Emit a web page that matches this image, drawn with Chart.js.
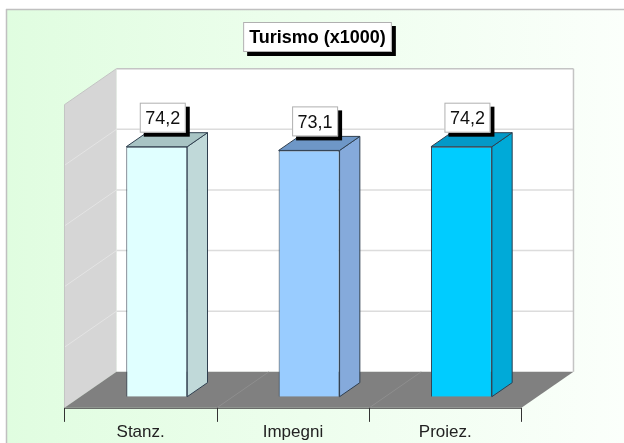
<!DOCTYPE html>
<html>
<head>
<meta charset="utf-8">
<script src="https://cdn.jsdelivr.net/npm/chart.js@4/dist/chart.umd.min.js"></script>
<style>
html,body{margin:0;padding:0;background:#fff;}
canvas{display:block;}
</style>
</head>
<body>
<canvas id="chart" width="624" height="443"></canvas>
<script>
const categories = ['Stanz.', 'Impegni', 'Proiez.'];
const values = [74.2, 73.1, 74.2];
const frontColors = ['#e0ffff', '#99ccff', '#00ccff'];
const sideColors = ['#c0d9d9', '#85aadb', '#00aad8'];
const topColors = ['#a8c4c4', '#6e97c7', '#0399c8'];
const yMax = 90;
const yStep = 18;
const chartTitle = 'Turismo (x1000)';

// obliqua: profondita' del pavimento e posizione delle barre dentro
const DX = 52, DY = 36;
const BAR_FRONT = 0.31, BAR_BACK = 0.70;
const FONT = '"Liberation Sans", Arial, sans-serif';

// punto sul piano frontale delle barre spostato alla profondita' d
function P(x, y, d){
  return [x + (d - BAR_FRONT) * DX, y - (d - BAR_FRONT) * DY];
}

function poly(ctx, pts, fill, stroke, lw){
  ctx.beginPath();
  ctx.moveTo(pts[0][0], pts[0][1]);
  for(let i=1;i<pts.length;i++) ctx.lineTo(pts[i][0], pts[i][1]);
  ctx.closePath();
  if(fill){ ctx.fillStyle = fill; ctx.fill(); }
  if(stroke){ ctx.strokeStyle = stroke; ctx.lineWidth = lw || 1; ctx.stroke(); }
}

function line(ctx, a, b, color, lw){
  ctx.beginPath();
  ctx.moveTo(a[0], a[1]);
  ctx.lineTo(b[0], b[1]);
  ctx.strokeStyle = color;
  ctx.lineWidth = lw || 1;
  ctx.stroke();
}

function shadowBox(ctx, x, y, w, h){
  ctx.fillStyle = '#000';
  ctx.fillRect(x + 4, y + 4, w, h);
  ctx.fillStyle = '#fff';
  ctx.fillRect(x, y, w, h);
  ctx.strokeStyle = '#b0b0b0';
  ctx.lineWidth = 1;
  ctx.strokeRect(x + 0.5, y + 0.5, w - 1, h - 1);
}

const scene3d = {
  id: 'scene3d',
  beforeDraw(chart){
    const ctx = chart.ctx;
    const a = chart.chartArea;
    const yScale = chart.scales.y;
    const W = chart.width, H = chart.height;
    ctx.save();
    // sfondo
    ctx.fillStyle = '#fff';
    ctx.fillRect(0, 0, W, H);
    const g = ctx.createLinearGradient(6, 0, W, 0);
    g.addColorStop(0, '#e0fde0');
    g.addColorStop(1, '#fbfffb');
    ctx.fillStyle = g;
    ctx.fillRect(6, 9, W - 6, H - 9);
    line(ctx, [6, 9.5], [W, 9.5], '#c0c0c0', 1.5);
    line(ctx, [6.5, 9], [6.5, H], '#c0c0c0', 1.5);

    // titolo
    ctx.font = 'bold 18px ' + FONT;
    const tw = ctx.measureText(chartTitle).width;
    const bw = tw + 12, bx = 317.5 - bw / 2;
    shadowBox(ctx, bx, 22, bw, 30);
    ctx.fillStyle = '#000';
    ctx.textAlign = 'center';
    ctx.textBaseline = 'alphabetic';
    ctx.fillText(chartTitle, 317.5, 43);

    // parete di fondo
    const bl = P(a.left, a.bottom, 1), tr = P(a.right, a.top, 1);
    ctx.fillStyle = '#fff';
    ctx.fillRect(bl[0], tr[1], tr[0] - bl[0], bl[1] - tr[1]);
    // parete laterale
    poly(ctx, [P(a.left, a.top, 1), P(a.left, a.bottom, 1), P(a.left, a.bottom, 0), P(a.left, a.top, 0)], '#d6d6d6', null);

    // griglia
    for(let v = yStep; v < yMax; v += yStep){
      const y = yScale.getPixelForValue(v);
      line(ctx, P(a.left, y, 1), P(a.right, y, 1), '#dcdcdc', 1.5);
      line(ctx, P(a.left, y, 1), P(a.left, y, 0), '#e4e4e4', 1);
    }
    line(ctx, P(a.left, a.top, 1), P(a.right, a.top, 1), '#c4c4c4', 1.5);
    line(ctx, P(a.right, a.top, 1), P(a.right, a.bottom, 1), '#c4c4c4', 1.5);
    line(ctx, P(a.left, a.top, 1), P(a.left, a.top, 0), '#c4c4c4', 1);
    line(ctx, P(a.left, a.top, 0), P(a.left, a.bottom, 0), '#c4c4c4', 1);

    // pavimento
    poly(ctx, [P(a.left, a.bottom, 0), P(a.right, a.bottom, 0), P(a.right, a.bottom, 1), P(a.left, a.bottom, 1)], '#808080', null);
    const slot = (a.right - a.left) / categories.length;
    for(let i = 1; i < categories.length; i++){
      const bx2 = a.left + i * slot;
      line(ctx, P(bx2, a.bottom, 0), P(bx2, a.bottom, 1), '#8e8e8e', 1);
    }
    const f0 = P(a.left, a.bottom, 0), f1 = P(a.right, a.bottom, 0);
    line(ctx, [f0[0], f0[1] + 0.5], [f1[0], f1[1] + 0.5], '#555', 1);
    for(let i = 0; i <= categories.length; i++){
      const p = P(a.left + i * slot, a.bottom, 0);
      line(ctx, [Math.round(p[0]) + 0.5, p[1]], [Math.round(p[0]) + 0.5, p[1] + 14], '#333', 1);
    }
    // etichette categorie
    ctx.font = '17px ' + FONT;
    ctx.fillStyle = '#222';
    ctx.textAlign = 'center';
    categories.forEach((c, i) => {
      const p = P(chart.scales.x.getPixelForValue(i), a.bottom, 0);
      ctx.fillText(c, p[0], p[1] + 29);
    });
    ctx.restore();
  },
  beforeDatasetsDraw(chart){
    const ctx = chart.ctx;
    const dx = (BAR_BACK - BAR_FRONT) * DX, dy = (BAR_BACK - BAR_FRONT) * DY;
    ctx.save();
    chart.getDatasetMeta(0).data.forEach((bar, i) => {
      const p = bar.getProps(['x', 'y', 'base', 'width'], true);
      const l = p.x - p.width / 2, r = p.x + p.width / 2;
      poly(ctx, [[r, p.y], [r + dx, p.y - dy], [r + dx, p.base - dy], [r, p.base]], sideColors[i], '#2f3f4f', 1);
      poly(ctx, [[l, p.y], [l + dx, p.y - dy], [r + dx, p.y - dy], [r, p.y]], topColors[i], '#2f3f4f', 1);
    });
    ctx.restore();
  },
  afterDatasetsDraw(chart){
    const ctx = chart.ctx;
    const dy = (BAR_BACK - BAR_FRONT) * DY;
    ctx.save();
    ctx.font = '18px ' + FONT;
    ctx.textAlign = 'center';
    ctx.textBaseline = 'alphabetic';
    chart.getDatasetMeta(0).data.forEach((bar, i) => {
      const p = bar.getProps(['x', 'y'], true);
      const txt = values[i].toFixed(1).replace('.', ',');
      const w = 46, h = 30;
      const cx = p.x + 6, bottom = p.y - dy;
      shadowBox(ctx, cx - w / 2, bottom - h, w, h);
      ctx.fillStyle = '#111';
      ctx.fillText(txt, cx, bottom - h + 21.5);
    });
    ctx.restore();
  }
};

new Chart(document.getElementById('chart'), {
  type: 'bar',
  data: {
    labels: categories,
    datasets: [{
      data: values,
      backgroundColor: frontColors,
      borderColor: '#2f3f4f',
      borderWidth: 1,
      categoryPercentage: 1,
      barPercentage: 0.4
    }]
  },
  options: {
    responsive: false,
    animation: false,
    devicePixelRatio: 1,
    layout: { padding: { left: 80.6, right: 86.4, top: 93.5, bottom: 46.3 } },
    plugins: { legend: { display: false }, tooltip: { enabled: false }, title: { display: false } },
    scales: {
      x: { display: false },
      y: { display: false, min: 0, max: yMax, ticks: { stepSize: yStep } }
    }
  },
  plugins: [scene3d]
});
</script>
</body>
</html>
